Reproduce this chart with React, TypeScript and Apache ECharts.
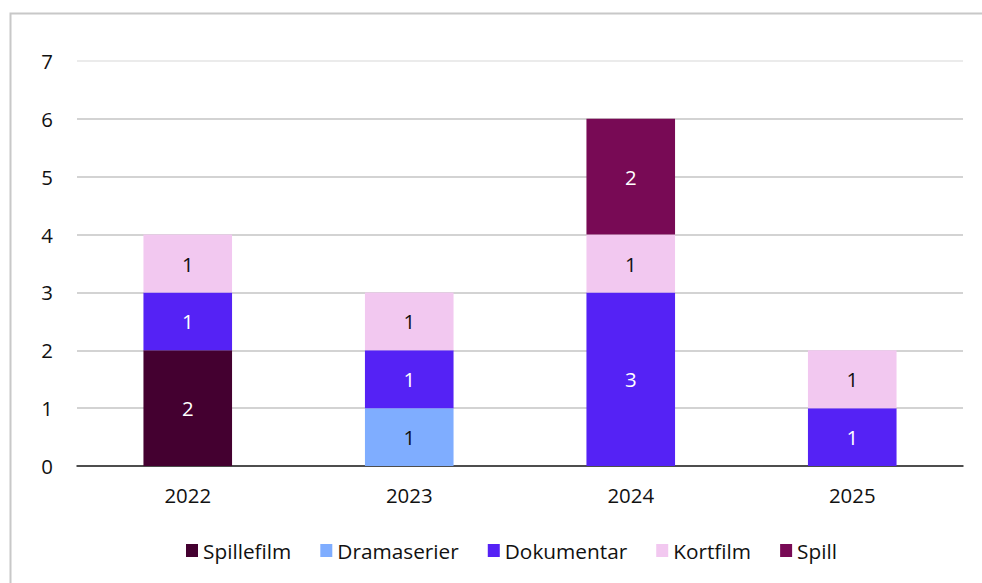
import React, { useEffect, useRef } from "react";
import * as echarts from "echarts";

const categories = ["2022", "2023", "2024", "2025"];
const seriesNames = ["Spillefilm", "Dramaserier", "Dokumentar", "Kortfilm", "Spill"];
const spillefilm = [2, null, null, null];
const dramaserier = [null, 1, null, null];
const dokumentar = [1, 1, 3, 1];
const kortfilm = [1, 1, 1, 1];
const spill = [null, null, 2, null];
const colors = ["#440030", "#7fadff", "#5522f5", "#f2c8f0", "#780a55"];
const labelColors = ["#ffffff", "#111111", "#ffffff", "#111111", "#ffffff"];

const FONT = "'Open Sans', 'Noto Sans', sans-serif";

export default function App() {
  const ref = useRef<HTMLDivElement>(null);
  useEffect(() => {
    if (!ref.current) return;
    const chart = echarts.init(ref.current, null, { renderer: "svg" });
    const values = [spillefilm, dramaserier, dokumentar, kortfilm, spill];
    chart.setOption({
      animation: false,
      textStyle: { fontFamily: FONT },
      graphic: [
        {
          type: "rect",
          shape: { x: 10.5, y: 13.5, width: 980, height: 600 },
          style: { fill: "none", stroke: "#c8c8c8", lineWidth: 2 },
          silent: true,
        },
      ],
      grid: { left: 77, right: 19, top: 61, bottom: 117 },
      legend: {
        top: 535,
        left: 181,
        itemWidth: 12,
        itemHeight: 13,
        itemGap: 29,
        icon: "rect",
        textStyle: { fontSize: 20.8, color: "#111", fontFamily: FONT },
        data: seriesNames,
      },
      xAxis: {
        type: "category",
        data: categories,
        axisLine: { lineStyle: { color: "#222", width: 1.5 } },
        axisTick: { show: false },
        axisLabel: { fontSize: 20.4, color: "#111", margin: 19, fontFamily: FONT },
      },
      yAxis: {
        type: "value",
        min: 0,
        max: 7,
        interval: 1,
        axisLine: { show: false },
        axisTick: { show: false },
        axisLabel: { fontSize: 20.4, color: "#111", margin: 24, fontFamily: FONT },
        splitLine: {
          lineStyle: {
            color: ["#c4c4c4", "#c4c4c4", "#c4c4c4", "#c4c4c4", "#c4c4c4", "#c4c4c4", "#c4c4c4", "#e4e4e4"],
            width: 1.5,
          },
        },
      },
      series: seriesNames.map((name, i) => ({
        name,
        type: "bar",
        stack: "total",
        barCategoryGap: "60%",
        data: values[i],
        itemStyle: { color: colors[i] },
        label: {
          show: true,
          position: "inside",
          color: labelColors[i],
          fontSize: 20.4,
          fontFamily: FONT,
        },
      })),
    });
    return () => chart.dispose();
  }, []);
  return (
    <div
      ref={ref}
      style={{ position: "fixed", left: 0, top: 0, width: 982, height: 583, background: "#fff" }}
    />
  );
}
